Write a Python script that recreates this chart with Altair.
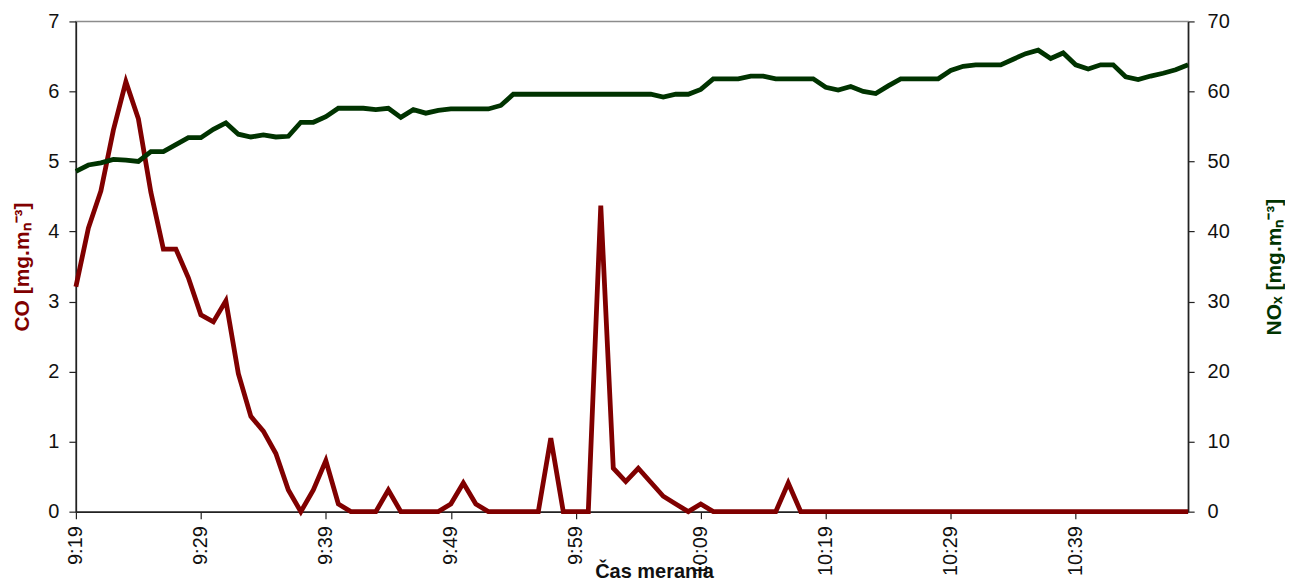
import altair as alt
import pandas as pd

times = [
    "9:19", "9:20", "9:21", "9:22", "9:23", "9:24", "9:25", "9:26", "9:27", "9:28",
    "9:29", "9:30", "9:31", "9:32", "9:33", "9:34", "9:35", "9:36", "9:37", "9:38",
    "9:39", "9:40", "9:41", "9:42", "9:43", "9:44", "9:45", "9:46", "9:47", "9:48",
    "9:49", "9:50", "9:51", "9:52", "9:53", "9:54", "9:55", "9:56", "9:57", "9:58",
    "9:59", "10:00", "10:01", "10:02", "10:03", "10:04", "10:05", "10:06", "10:07", "10:08",
    "10:09", "10:10", "10:11", "10:12", "10:13", "10:14", "10:15", "10:16", "10:17", "10:18",
    "10:19", "10:20", "10:21", "10:22", "10:23", "10:24", "10:25", "10:26", "10:27", "10:28",
    "10:29", "10:30", "10:31", "10:32", "10:33", "10:34", "10:35", "10:36", "10:37", "10:38",
    "10:39", "10:40", "10:41", "10:42", "10:43", "10:44", "10:45", "10:46", "10:47", "10:48",
]

tick_labels = ["9:19", "9:29", "9:39", "9:49", "9:59", "10:09", "10:19", "10:29", "10:39"]

co = [
    3.21, 4.05, 4.58, 5.45, 6.14, 5.61, 4.56, 3.75, 3.75, 3.34,
    2.81, 2.71, 3.01, 1.97, 1.36, 1.15, 0.83, 0.31, 0.00, 0.31,
    0.73, 0.11, 0.00, 0.00, 0.00, 0.31, 0.00, 0.00, 0.00, 0.00,
    0.11, 0.41, 0.11, 0.00, 0.00, 0.00, 0.00, 0.00, 1.05, 0.00,
    0.00, 0.00, 4.37, 0.62, 0.43, 0.62, 0.42, 0.22, 0.11, 0.00,
    0.11, 0.00, 0.00, 0.00, 0.00, 0.00, 0.00, 0.41, 0.00, 0.00,
    0.00, 0.00, 0.00, 0.00, 0.00, 0.00, 0.00, 0.00, 0.00, 0.00,
    0.00, 0.00, 0.00, 0.00, 0.00, 0.00, 0.00, 0.00, 0.00, 0.00,
    0.00, 0.00, 0.00, 0.00, 0.00, 0.00, 0.00, 0.00, 0.00, 0.00,
]

nox = [
    48.6, 49.5, 49.8, 50.3, 50.2, 50.0, 51.4, 51.4, 52.4, 53.4,
    53.4, 54.6, 55.5, 53.9, 53.5, 53.8, 53.5, 53.6, 55.6, 55.6,
    56.4, 57.6, 57.6, 57.6, 57.4, 57.6, 56.3, 57.4, 56.9, 57.3,
    57.5, 57.5, 57.5, 57.5, 58.0, 59.6, 59.6, 59.6, 59.6, 59.6,
    59.6, 59.6, 59.6, 59.6, 59.6, 59.6, 59.6, 59.2, 59.6, 59.6,
    60.3, 61.8, 61.8, 61.8, 62.2, 62.2, 61.8, 61.8, 61.8, 61.8,
    60.6, 60.2, 60.7, 60.0, 59.7, 60.8, 61.8, 61.8, 61.8, 61.8,
    63.0, 63.6, 63.8, 63.8, 63.8, 64.6, 65.4, 65.9, 64.7, 65.5,
    63.8, 63.2, 63.8, 63.8, 62.1, 61.7, 62.2, 62.6, 63.1, 63.8,
]

df = pd.DataFrame({"time": times, "CO": co, "NOx": nox})

FONT = "Liberation Sans"
CO_COLOR = "#800000"
NOX_COLOR = "#003300"

x_enc = alt.X(
    "time:O",
    sort=None,
    scale=alt.Scale(type="point", padding=0),
    axis=alt.Axis(
        values=tick_labels,
        labelAngle=270,
        title="Čas merania",
        titleX=579,
        titleY=50,
        titleAlign="center",
        titleBaseline="top",
        tickSize=7,
        labelPadding=7,
    ),
)

co_line = alt.Chart(df).mark_line(color=CO_COLOR, strokeWidth=4.8).encode(
    x=x_enc,
    y=alt.Y(
        "CO:Q",
        scale=alt.Scale(domain=[0, 7]),
        axis=alt.Axis(
            orient="left",
            values=[0, 1, 2, 3, 4, 5, 6, 7],
            title="CO [mg.mₙ⁻³]",
            titleColor=CO_COLOR,
            titleFontSize=21,
            tickSize=7,
            labelPadding=10,
            titlePadding=15,
        ),
    ),
)

nox_line = alt.Chart(df).mark_line(color=NOX_COLOR, strokeWidth=4.8).encode(
    x=x_enc,
    y=alt.Y(
        "NOx:Q",
        scale=alt.Scale(domain=[0, 70]),
        axis=alt.Axis(
            orient="right",
            values=[0, 10, 20, 30, 40, 50, 60, 70],
            title="NOₓ [mg.mₙ⁻³]",
            titleColor=NOX_COLOR,
            titleFontSize=21,
            titleAngle=270,
            tickSize=6,
            labelPadding=13,
            titlePadding=55,
        ),
    ),
)

chart = (
    alt.layer(co_line, nox_line)
    .resolve_scale(y="independent")
    .properties(
        width=1114,
        height=491,
        padding={"left": 3, "top": 3, "right": 0, "bottom": 0},
    )
    .configure_view(stroke="#8c8c8c", strokeWidth=1.5)
    .configure_axis(
        grid=False,
        domainColor="#222222",
        domainWidth=1.5,
        tickColor="#222222",
        tickWidth=1.2,
        labelFont=FONT,
        labelFontSize=20,
        labelColor="#111111",
        titleFont=FONT,
        titleFontSize=20,
        titleFontWeight="bold",
        titleColor="#111111",
    )
)

chart.save("out.html", embed_options={"renderer": "svg", "actions": False})
